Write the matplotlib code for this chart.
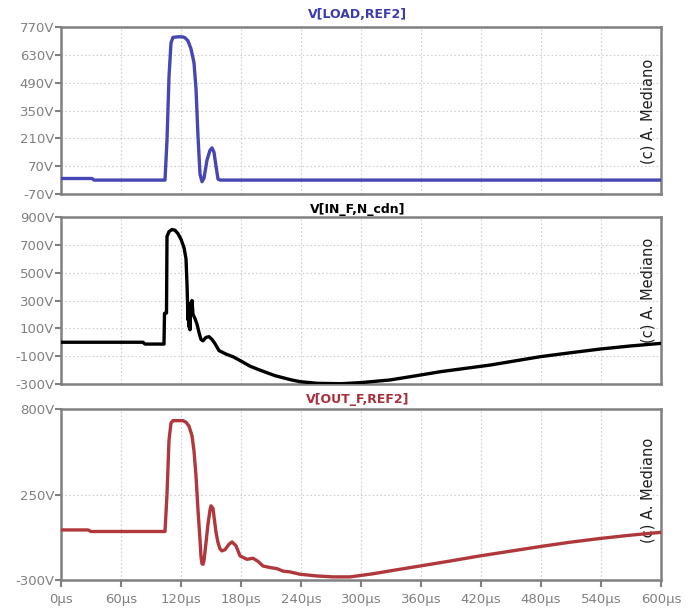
import numpy as np
import matplotlib
matplotlib.use("Agg")
import matplotlib.pyplot as plt

# time axis in microseconds, voltages in volts
t_load = [0, 31, 33, 104, 106, 108, 110, 112, 118, 122, 124, 127, 130, 133, 135,
          137, 139, 141, 143, 146, 149, 151, 153, 155, 157, 159, 600]
v_load = [8, 8, 0, 0, 200, 520, 690, 718, 721, 720, 716, 700, 660, 590, 460,
          220, 30, -8, 10, 100, 150, 162, 140, 70, 5, 0, 0]

t_in = [0, 82, 84, 103, 103.5, 105.5, 106, 108, 111, 114, 117, 120, 123, 125,
        126, 127, 127.5, 128, 128.5, 129, 129.5, 130, 131, 132, 134, 136, 138,
        140, 142, 145, 148, 151, 154, 158, 165, 172, 180, 189, 197, 206, 214,
        222, 230, 239, 256, 280, 300, 329, 354, 379, 404, 429, 454, 479, 509,
        539, 569, 600]
v_in = [0, 0, -13, -13, 208, 210, 760, 795, 810, 805, 780, 740, 680, 600,
        420, 160, 250, 110, 280, 90, 260, 200, 300, 200, 170, 130, 70,
        20, 10, 35, 40, 20, -10, -60, -85, -104, -135, -172, -195, -219, -240,
        -255, -270, -283, -295, -298, -290, -271, -242, -212, -188, -164, -134,
        -104, -76, -49, -27, -8]

t_out = [0, 27, 30, 104, 106, 108, 110, 112, 122, 125, 128, 131, 133, 135, 137,
         139, 140, 141, 142, 143, 145, 147, 149, 150, 152, 155, 157, 159, 161,
         164, 168, 171, 175, 179, 186, 192, 197, 202, 209, 216, 222, 229, 239,
         256, 272, 289, 312, 335, 359, 389, 419, 449, 479, 509, 539, 569, 599]
v_out = [22, 22, 12, 12, 250, 600, 710, 725, 725, 715, 690, 628, 530, 370, 150,
         -40, -150, -195, -199, -175, -60, 60, 150, 177, 160, 7, -60, -100, -113,
         -105, -70, -55, -80, -145, -167, -160, -180, -210, -220, -227, -243, -248,
         -263, -274, -280, -280, -260, -235, -210, -178, -145, -115, -85, -57, -33,
         -12, 6]

titles = ["V[LOAD,REF2]", "V[IN_F,N_cdn]", "V[OUT_F,REF2]"]
yticks = [[-70, 70, 210, 350, 490, 630, 770],
          [-300, -100, 100, 300, 500, 700, 900],
          [-300, 250, 800]]
xticks = [0, 60, 120, 180, 240, 300, 360, 420, 480, 540, 600]

colors = ["#4646b4", "#000000", "#b0383c"]
title_colors = ["#3c3cb0", "#000000", "#a8303c"]
gray = "#808080"

W, H = 698, 611
fig = plt.figure(figsize=(W / 100, H / 100), dpi=100)

# panel pixel boxes: (top, bottom)
boxes = [(27, 194), (217, 384), (409, 580)]
title_y = [15, 209, 399]
mark_y = [0.497, 0.563, 0.526]
series = [(t_load, v_load), (t_in, v_in), (t_out, v_out)]
left, right = 61, 661

for i, ((top, bot), (t, v)) in enumerate(zip(boxes, series)):
    ax = fig.add_axes([left / W, 1 - bot / H, (right - left) / W, (bot - top) / H])
    ax.plot(t, v, color=colors[i], lw=2.4, zorder=3)
    ax.set_xlim(0, 600)
    ax.set_ylim(yticks[i][0], yticks[i][-1])
    ax.set_yticks(yticks[i])
    ax.set_yticklabels([f"{y}V" for y in yticks[i]])
    ax.set_xticks(xticks)
    if i == 2:
        ax.set_xticklabels([f"{x}µs" for x in xticks])
        ax.tick_params(axis="x", length=5, width=1.5, colors=gray,
                       labelsize=9.5, pad=4)
    else:
        ax.tick_params(axis="x", length=0, labelbottom=False)
    ax.tick_params(axis="y", length=4, width=1.5, colors=gray, labelsize=9.5, pad=1)
    for sp in ax.spines.values():
        sp.set_color(gray)
        sp.set_linewidth(1.8)
    ax.grid(True, color="#d0d0d0", linestyle=(0, (1.5, 2)), linewidth=0.8)
    ax.set_axisbelow(True)
    ax.text(0.978, mark_y[i], "(c) A. Mediano", rotation=90, transform=ax.transAxes,
            ha="center", va="center", fontsize=10.5, color="#202020", zorder=2)
    fig.text(358 / W, 1 - title_y[i] / H, titles[i], ha="center", va="center",
             fontsize=9, fontweight="bold", color=title_colors[i])

fig.savefig("out.png", dpi=100)
